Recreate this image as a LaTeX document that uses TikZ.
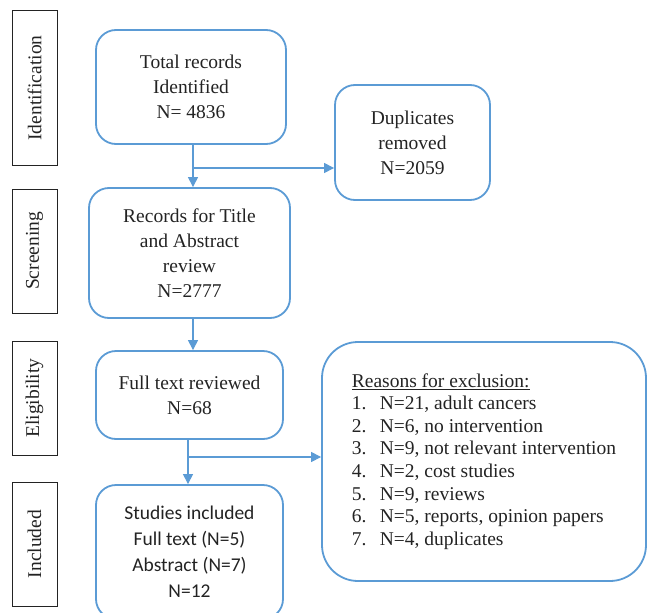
\documentclass[tikz,border=0pt]{standalone}
\usepackage{fontspec}
\setmainfont{Liberation Serif}
\newfontfamily\calib{Carlito}
\usetikzlibrary{arrows.meta}
\definecolor{boxblue}{RGB}{91,155,213}
\definecolor{txt}{RGB}{35,35,35}
\begin{document}
\begin{tikzpicture}[x=1pt,y=-1pt,
  flowbox/.style={draw=boxblue,line width=1.8pt,rounded corners=20pt,align=center,text=txt,
    font=\fontsize{19.5}{25}\selectfont,inner sep=0pt},
  sidebox/.style={draw=txt,line width=0.9pt,rotate=90,text=txt,minimum height=45pt,inner sep=0pt,
    font=\fontsize{19.5}{24}\selectfont},
  flowarrow/.style={draw=boxblue,line width=1.1pt,-{Triangle[length=10pt,width=10pt]}},
  flowline/.style={draw=boxblue,line width=1.1pt}]
\clip (0,0) rectangle (648,613);
% side labels
\node[sidebox,minimum width=155pt] (ident) at (34.5,88) {Identification};
\node[sidebox,minimum width=124pt] (screen) at (34.5,251) {Screening};
\node[sidebox,minimum width=114pt] (elig) at (34.5,398) {Eligibility};
\node[sidebox,minimum width=124pt] (incl) at (34.5,544) {Included};
% flow boxes
\node[flowbox,minimum width=190pt,minimum height=114pt] (total) at (191,87) {Total records\\Identified\\N= 4836};
\node[flowbox,minimum width=201pt,minimum height=130pt] (records) at (189.5,253) {Records for Title\\and Abstract\\review\\N=2777};
\node[flowbox,minimum width=187pt,minimum height=88pt] (full) at (189.5,395) {Full text reviewed\\N=68};
\node[flowbox,minimum width=187pt,minimum height=134pt,font=\calib\fontsize{19.5}{26}\selectfont] (studies) at (189.5,552) {Studies included\\Full text (N=5)\\Abstract (N=7)\\N=12};
\node[flowbox,minimum width=155pt,minimum height=115pt] (dup) at (412.5,142.5) {Duplicates\\removed\\N=2059};
\node[flowbox,rounded corners=36pt,minimum width=324pt,minimum height=239pt,align=left,
  font=\fontsize{19.5}{22.6}\selectfont] (reasons) at (484,461.5)
  {\underline{Reasons for exclusion:}\\
   \makebox[28pt][l]{1.}N=21, adult cancers\\
   \makebox[28pt][l]{2.}N=6, no intervention\\
   \makebox[28pt][l]{3.}N=9, not relevant intervention\\
   \makebox[28pt][l]{4.}N=2, cost studies\\
   \makebox[28pt][l]{5.}N=9, reviews\\
   \makebox[28pt][l]{6.}N=5, reports, opinion papers\\
   \makebox[28pt][l]{7.}N=4, duplicates};
% connectors
\coordinate (b1) at ([xshift=2pt]total.south |- 0,168);
\draw[flowarrow] ([xshift=2pt]total.south) -- ([xshift=2pt]total.south |- records.north);
\draw[flowarrow] (b1) -- (b1 -| dup.west);
\draw[flowarrow] ([xshift=3.5pt]records.south) -- ([xshift=3.5pt]records.south |- full.north);
\coordinate (b2) at ([xshift=-1.5pt]full.south |- 0,457);
\draw[flowarrow] ([xshift=-1.5pt]full.south) -- ([xshift=-1.5pt]full.south |- studies.north);
\draw[flowarrow] (b2) -- (b2 -| reasons.west);
\end{tikzpicture}
\end{document}
